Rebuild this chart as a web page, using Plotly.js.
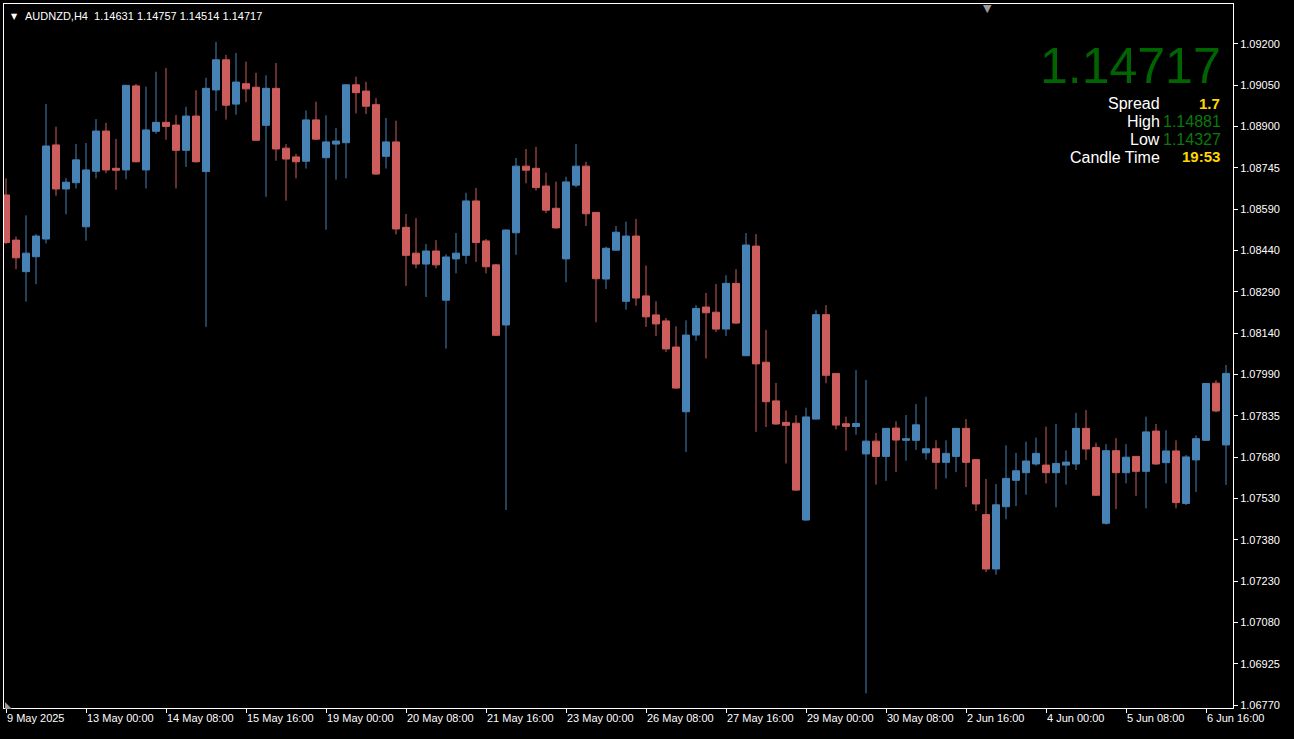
<!DOCTYPE html>
<html><head><meta charset="utf-8">
<script src="https://cdn.plot.ly/plotly-3.0.1.min.js"></script>
<style>html,body{margin:0;padding:0;background:#000;overflow:hidden}#chart{width:1294px;height:739px}</style>
</head><body><div id="chart"></div>
<script>
// ---- data ----
const headerText = "AUDNZD,H4  1.14631 1.14757 1.14514 1.14717";
const bigPrice = "1.14717";
const spreadValue = "1.7";
const highValue = "1.14881";
const lowValue = "1.14327";
const candleTime = "19:53";

const openP = [
1.08645,1.08479,1.08363,1.08418,1.08483,1.08829,1.08667,1.08690,1.08528,1.08732,
1.08880,1.08743,1.08737,1.09046,1.08737,1.08879,1.08912,1.08902,1.08809,1.08935,
1.08731,1.09031,1.09142,1.08979,1.09054,1.09041,1.08901,1.09037,1.08817,1.08785,
1.08769,1.08921,1.08782,1.08832,1.08837,1.09050,1.09027,1.08977,1.08787,1.08840,
1.08526,1.08431,1.08391,1.08439,1.08258,1.08410,1.08423,1.08623,1.08476,1.08388,
1.08167,1.08506,1.08751,1.08743,1.08678,1.08596,1.08410,1.08681,1.08751,1.08581,
1.08336,1.08442,1.08254,1.08494,1.08274,1.08204,1.08182,1.08086,1.07848,1.08130,
1.08233,1.08214,1.08152,1.08320,1.08054,1.08457,1.08030,1.07888,1.07809,1.07806,
1.07450,1.07821,1.08205,1.07989,1.07804,1.07794,1.07693,1.07740,1.07684,1.07788,
1.07743,1.07743,1.07697,1.07712,1.07662,1.07684,1.07787,1.07672,1.07470,1.07270,
1.07499,1.07596,1.07624,1.07656,1.07652,1.07624,1.07652,1.07656,1.07787,1.07717,
1.07438,1.07705,1.07624,1.07684,1.07629,1.07777,1.07661,1.07704,1.07511,1.07671,
1.07743,1.07953,1.07726];
const highP = [
1.08706,1.08492,1.08570,1.08501,1.08979,1.08896,1.08707,1.08832,1.08836,1.08924,
1.08910,1.08851,1.09049,1.09053,1.09043,1.09098,1.09112,1.08939,1.08969,1.09030,
1.09076,1.09208,1.09160,1.09167,1.09135,1.09094,1.09085,1.09130,1.08832,1.08796,
1.08956,1.08988,1.08938,1.08891,1.09053,1.09080,1.09061,1.09001,1.08928,1.08918,
1.08575,1.08560,1.08465,1.08479,1.08427,1.08505,1.08653,1.08671,1.08483,1.08391,
1.08519,1.08781,1.08814,1.08822,1.08727,1.08694,1.08712,1.08832,1.08767,1.08582,
1.08455,1.08531,1.08547,1.08557,1.08386,1.08254,1.08193,1.08162,1.08184,1.08240,
1.08285,1.08318,1.08350,1.08372,1.08505,1.08501,1.08149,1.07954,1.07853,1.07835,
1.07863,1.08222,1.08240,1.07990,1.07830,1.08001,1.07965,1.07770,1.07788,1.07813,
1.07836,1.07876,1.07903,1.07743,1.07743,1.07787,1.07821,1.07673,1.07601,1.07582,
1.07725,1.07697,1.07738,1.07753,1.07793,1.07803,1.07706,1.07844,1.07854,1.07734,
1.07729,1.07751,1.07729,1.07685,1.07830,1.07803,1.07780,1.07743,1.07689,1.07761,
1.07953,1.07964,1.08020];
const lowP = [
1.08465,1.08372,1.08253,1.08317,1.08467,1.08642,1.08574,1.08669,1.08477,1.08706,
1.08725,1.08664,1.08703,1.08765,1.08669,1.08870,1.08848,1.08669,1.08748,1.08764,
1.08160,1.08954,1.08922,1.08940,1.08986,1.08843,1.08638,1.08771,1.08624,1.08706,
1.08742,1.08847,1.08517,1.08701,1.08706,1.08945,1.08942,1.08719,1.08742,1.08500,
1.08311,1.08375,1.08270,1.08375,1.08080,1.08357,1.08392,1.08399,1.08357,1.08128,
1.07487,1.08425,1.08688,1.08661,1.08578,1.08521,1.08324,1.08673,1.08531,1.08177,
1.08299,1.08440,1.08223,1.08238,1.08160,1.08126,1.08068,1.07933,1.07700,1.08109,
1.08044,1.08141,1.08126,1.08171,1.08053,1.07774,1.07792,1.07800,1.07658,1.07557,
1.07447,1.07820,1.07953,1.07783,1.07705,1.07764,1.06813,1.07580,1.07594,1.07626,
1.07668,1.07708,1.07672,1.07563,1.07603,1.07626,1.07571,1.07484,1.07259,1.07249,
1.07453,1.07501,1.07543,1.07650,1.07585,1.07497,1.07580,1.07634,1.07671,1.07539,
1.07433,1.07490,1.07585,1.07539,1.07493,1.07653,1.07585,1.07493,1.07505,1.07553,
1.07742,1.07846,1.07579];
const closeP = [
1.08470,1.08414,1.08431,1.08494,1.08825,1.08667,1.08692,1.08774,1.08737,1.08880,
1.08737,1.08736,1.09048,1.08767,1.08884,1.08912,1.08897,1.08809,1.08935,1.08767,
1.09037,1.09142,1.08975,1.09060,1.09035,1.08846,1.09037,1.08814,1.08777,1.08767,
1.08921,1.08850,1.08840,1.08843,1.09050,1.09021,1.08971,1.08722,1.08840,1.08520,
1.08423,1.08391,1.08439,1.08388,1.08417,1.08431,1.08623,1.08470,1.08381,1.08129,
1.08516,1.08751,1.08736,1.08672,1.08589,1.08524,1.08693,1.08751,1.08576,1.08337,
1.08449,1.08508,1.08494,1.08266,1.08197,1.08171,1.08079,1.07935,1.08130,1.08228,
1.08212,1.08152,1.08320,1.08174,1.08461,1.08024,1.07885,1.07803,1.07798,1.07560,
1.07829,1.08205,1.07982,1.07799,1.07794,1.07805,1.07740,1.07684,1.07787,1.07744,
1.07749,1.07800,1.07712,1.07662,1.07695,1.07787,1.07662,1.07509,1.07270,1.07506,
1.07603,1.07631,1.07667,1.07695,1.07624,1.07658,1.07663,1.07787,1.07711,1.07541,
1.07705,1.07624,1.07681,1.07629,1.07774,1.07656,1.07704,1.07514,1.07682,1.07749,
1.07952,1.07851,1.07989];

const timeTickBars = [0,8,16,24,32,40,48,56,64,72,80,88,96,104,112,120];
const timeTickLabels = ["9 May 2025","13 May 00:00","14 May 08:00","15 May 16:00","19 May 00:00","20 May 08:00","21 May 16:00","23 May 00:00","26 May 08:00","27 May 16:00","29 May 00:00","30 May 08:00","2 Jun 16:00","4 Jun 00:00","5 Jun 08:00","6 Jun 16:00"];
const priceTickVals = [1.09200,1.0904813,1.0889625,1.0874438,1.085925,1.0844063,1.0828875,1.0813688,1.07985,1.0783313,1.0768125,1.0752938,1.073775,1.0722563,1.0707375,1.0692188,1.0677];
const priceTickLabels = ["1.09200","1.09050","1.08900","1.08745","1.08590","1.08440","1.08290","1.08140","1.07990","1.07835","1.07680","1.07530","1.07380","1.07230","1.07080","1.06925","1.06770"];

// ---- drawing ----
const barIndex = openP.map((_, i) => i);
const ML = 4, MR = 61, MT = 4, MB = 31, WIDTH = 1294, HEIGHT = 739;
const PW = WIDTH - ML - MR, PH = HEIGHT - MT - MB;
const px = x => (x - ML) / PW;
const py = y => (HEIGHT - MB - y) / PH;
const FONT = "Liberation Sans, Arial, sans-serif";
const UP = "#4682B4", DOWN = "#CD5C5C";
const GREEN = "#0A7A0A", DARKGREEN = "#006400", GOLD = "#FFD700";

const trace = {
  type: "candlestick",
  x: barIndex, open: openP, high: highP, low: lowP, close: closeP,
  increasing: {line: {color: UP, width: 1}, fillcolor: UP},
  decreasing: {line: {color: DOWN, width: 1}, fillcolor: DOWN},
  whiskerwidth: 0, hoverinfo: "skip", showlegend: false
};

function txt(x, y, text, opts) {
  return Object.assign({xref: "paper", yref: "paper", x: px(x), y: py(y), text: text,
    showarrow: false, xanchor: "left", yanchor: "middle",
    font: {family: FONT, size: 13, color: "#ffffff"}}, opts || {});
}

const annotations = [
  txt(9, 16, "▼", {font: {family: "DejaVu Sans", size: 8, color: "#ffffff"}}),
  txt(23, 16, headerText, {font: {family: FONT, size: 11, color: "#ffffff"}}),
  txt(1223, 66, bigPrice, {xanchor: "right", font: {family: FONT, size: 50, color: DARKGREEN}}),
  txt(1162, 103.5, "Spread", {xanchor: "right", font: {family: FONT, size: 16, color: "#ffffff"}}),
  txt(1222, 103, spreadValue, {xanchor: "right", font: {family: FONT, size: 15, color: GOLD, weight: "bold"}}),
  txt(1162, 121.5, "High", {xanchor: "right", font: {family: FONT, size: 16, color: "#ffffff"}}),
  txt(1161, 121.5, highValue, {xanchor: "left", font: {family: FONT, size: 16, color: GREEN}}),
  txt(1162, 139.5, "Low", {xanchor: "right", font: {family: FONT, size: 16, color: "#ffffff"}}),
  txt(1161, 139.5, lowValue, {xanchor: "left", font: {family: FONT, size: 16, color: GREEN}}),
  txt(1162, 157.5, "Candle Time", {xanchor: "right", font: {family: FONT, size: 16, color: "#ffffff"}}),
  txt(1222, 157, candleTime, {xanchor: "right", font: {family: FONT, size: 15, color: GOLD, weight: "bold"}}),
  txt(987, 8, "▼", {xanchor: "center", font: {family: "DejaVu Sans", size: 11, color: "#9a9a9a"}})
];

const layout = {
  width: WIDTH, height: HEIGHT,
  paper_bgcolor: "#000000", plot_bgcolor: "#000000",
  margin: {l: ML, r: MR, t: MT, b: MB, pad: 0},
  showlegend: false, hovermode: false, dragmode: false,
  boxgap: 0.3, boxgroupgap: 0,
  xaxis: {
    range: [-0.2, 122.7], showgrid: false, zeroline: false,
    showline: true, linecolor: "#ffffff", linewidth: 1, mirror: true,
    ticks: "outside", ticklen: 4, tickcolor: "#ffffff", tickwidth: 1,
    tickmode: "array", tickvals: timeTickBars, ticktext: timeTickLabels,
    ticklabelposition: "outside right",
    tickfont: {family: FONT, size: 11, color: "#ffffff"},
    rangeslider: {visible: false}, fixedrange: true
  },
  yaxis: {
    side: "right", range: [1.06759, 1.09347], showgrid: false, zeroline: false,
    showline: true, linecolor: "#ffffff", linewidth: 1, mirror: true,
    ticks: "outside", ticklen: 4, tickcolor: "#ffffff", tickwidth: 1,
    tickmode: "array", tickvals: priceTickVals, ticktext: priceTickLabels,
    tickfont: {family: FONT, size: 11, color: "#ffffff"}, fixedrange: true
  },
  annotations: annotations,
  shapes: [
    {type: "path", xref: "paper", yref: "paper",
     path: `M ${px(5)} ${py(709)} L ${px(12)} ${py(709)} L ${px(5)} ${py(702)} Z`,
     fillcolor: "#9a9a9a", line: {width: 0}}
  ]
};

Plotly.newPlot("chart", [trace], layout, {displayModeBar: false, staticPlot: true});
</script></body></html>
